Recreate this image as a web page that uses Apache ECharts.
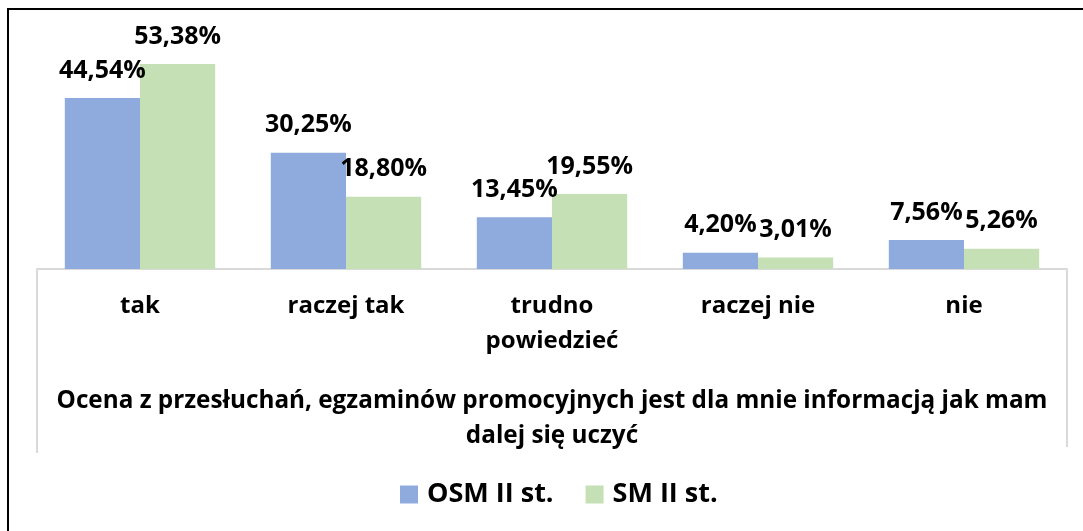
<!DOCTYPE html>
<html>
<head>
<meta charset="utf-8">
<script src="https://cdn.jsdelivr.net/npm/echarts@6/dist/echarts.min.js"></script>
<style>
html,body{margin:0;padding:0;background:#fff;}
#chart{width:1083px;height:531px;}
</style>
</head>
<body>
<div id="chart"></div>
<script>
const categories = ['tak', 'raczej tak', 'trudno\npowiedzieć', 'raczej nie', 'nie'];
const seriesNames = ['OSM II st.', 'SM II st.'];
const osmValues = [44.54, 30.25, 13.45, 4.20, 7.56];
const smValues = [53.38, 18.80, 19.55, 3.01, 5.26];
const axisTitle = 'Ocena z przesłuchań, egzaminów promocyjnych jest dla mnie informacją jak mam\ndalej się uczyć';

const FONT = '"Open Sans"';
const colors = ['#8FAADC', '#C5E0B4'];

const chart = echarts.init(document.getElementById('chart'), null, {renderer: 'canvas'});

const labelCfg = {
  show: true,
  position: 'top',
  distance: 15,
  fontFamily: FONT,
  fontWeight: 'bold',
  fontSize: 25,
  color: '#000',
  formatter: p => p.value.toFixed(2).replace('.', ',') + '%'
};

chart.setOption({
  animation: false,
  backgroundColor: '#fff',
  grid: {left: 37, right: 16, top: 38.6, bottom: 262, containLabel: false},
  legend: {
    data: seriesNames,
    left: 400,
    top: 481,
    padding: 0,
    icon: 'rect',
    itemWidth: 18,
    itemHeight: 18,
    itemGap: 32,
    textStyle: {fontFamily: FONT, fontWeight: 'bold', fontSize: 27, color: '#000', padding: [0, 0, 0, 4]}
  },
  xAxis: {
    type: 'category',
    data: categories,
    axisLine: {show: true, lineStyle: {color: '#D9D9D9', width: 2}},
    axisTick: {show: false},
    axisLabel: {
      interval: 0,
      margin: 20,
      fontFamily: FONT,
      fontWeight: 'bold',
      fontSize: 24,
      lineHeight: 35,
      color: '#000'
    },
    name: axisTitle,
    nameLocation: 'middle',
    nameGap: 115,
    nameTextStyle: {
      fontFamily: FONT,
      fontWeight: 'bold',
      fontSize: 24.3,
      lineHeight: 35,
      color: '#000',
      verticalAlign: 'top'
    }
  },
  yAxis: {
    type: 'value',
    min: 0,
    max: 60,
    show: false,
    splitLine: {show: false}
  },
  series: [
    {
      name: seriesNames[0],
      type: 'bar',
      data: osmValues,
      barGap: '0%',
      barCategoryGap: '27%',
      itemStyle: {color: colors[0]},
      label: labelCfg
    },
    {
      name: seriesNames[1],
      type: 'bar',
      data: smValues,
      barGap: '0%',
      barCategoryGap: '27%',
      itemStyle: {color: colors[1]},
      label: labelCfg
    }
  ],
  graphic: [
    {type: 'polyline', shape: {points: [[8, 540], [8, 9], [1090, 9]]}, style: {stroke: '#000', lineWidth: 2, fill: null}, silent: true},
    {type: 'line', shape: {x1: 37, y1: 269, x2: 37, y2: 453}, style: {stroke: '#D9D9D9', lineWidth: 2}, silent: true},
    {type: 'line', shape: {x1: 1067, y1: 269, x2: 1067, y2: 447}, style: {stroke: '#D9D9D9', lineWidth: 2}, silent: true}
  ]
});
</script>
</body>
</html>
